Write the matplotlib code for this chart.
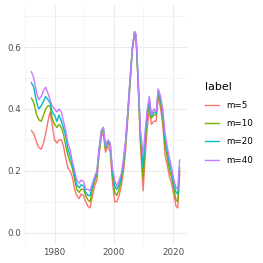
import matplotlib
matplotlib.use("Agg")
import matplotlib.pyplot as plt
from matplotlib.ticker import MultipleLocator

years = [1972.2, 1973, 1974, 1974.7, 1975.5, 1976.3, 1977, 1977.8, 1978.5, 1979.2,
         1980, 1980.8, 1981.5, 1982.3, 1983, 1983.8, 1984.5, 1985.2, 1986, 1986.8,
         1987.5, 1988.3, 1989, 1989.8, 1990.5, 1991.3, 1992, 1992.8, 1993.5, 1994.3,
         1995, 1995.8, 1996.5, 1997.2, 1998, 1998.8, 1999.5, 2000.3, 2001, 2001.8,
         2002.5, 2003.3, 2004, 2004.8, 2005.5, 2006.3, 2007, 2007.5, 2008.2, 2009,
         2009.9, 2010.6, 2011.3, 2012, 2012.7, 2013.5, 2014.3, 2015, 2015.8, 2016.5,
         2017.3, 2018, 2018.8, 2019.5, 2020.3, 2021, 2021.6, 2022.2]

m5 = [0.33, 0.32, 0.29, 0.275, 0.27, 0.29, 0.32, 0.36, 0.39, 0.35,
      0.30, 0.29, 0.30, 0.30, 0.28, 0.24, 0.21, 0.20, 0.18, 0.14,
      0.12, 0.11, 0.125, 0.12, 0.10, 0.085, 0.08, 0.12, 0.15, 0.17,
      0.25, 0.31, 0.32, 0.26, 0.28, 0.26, 0.17, 0.10, 0.10, 0.12,
      0.15, 0.20, 0.27, 0.38, 0.48, 0.59, 0.64, 0.63, 0.48, 0.28,
      0.135, 0.25, 0.34, 0.40, 0.35, 0.36, 0.36, 0.44, 0.40, 0.35,
      0.25, 0.22, 0.18, 0.16, 0.12, 0.085, 0.08, 0.19]

m10 = [0.435, 0.42, 0.38, 0.365, 0.36, 0.38, 0.40, 0.41, 0.41, 0.37,
       0.35, 0.34, 0.35, 0.34, 0.32, 0.28, 0.25, 0.23, 0.21, 0.17,
       0.14, 0.13, 0.14, 0.14, 0.12, 0.105, 0.10, 0.14, 0.165, 0.185,
       0.26, 0.32, 0.33, 0.27, 0.29, 0.28, 0.19, 0.13, 0.12, 0.14,
       0.17, 0.22, 0.29, 0.39, 0.49, 0.60, 0.645, 0.635, 0.49, 0.30,
       0.175, 0.29, 0.37, 0.42, 0.37, 0.38, 0.38, 0.455, 0.42, 0.37,
       0.28, 0.245, 0.20, 0.18, 0.14, 0.105, 0.10, 0.20]

m20 = [0.485, 0.47, 0.42, 0.40, 0.41, 0.425, 0.44, 0.43, 0.42, 0.39,
       0.38, 0.36, 0.38, 0.36, 0.34, 0.31, 0.27, 0.25, 0.22, 0.185,
       0.155, 0.145, 0.155, 0.15, 0.13, 0.12, 0.12, 0.15, 0.175, 0.195,
       0.265, 0.33, 0.34, 0.275, 0.295, 0.285, 0.20, 0.15, 0.14, 0.155,
       0.18, 0.23, 0.295, 0.40, 0.50, 0.60, 0.65, 0.64, 0.50, 0.32,
       0.21, 0.31, 0.39, 0.43, 0.375, 0.39, 0.385, 0.46, 0.43, 0.39,
       0.30, 0.265, 0.22, 0.195, 0.155, 0.13, 0.125, 0.21]

m40 = [0.52, 0.50, 0.45, 0.43, 0.44, 0.46, 0.47, 0.45, 0.43, 0.41,
       0.40, 0.39, 0.40, 0.39, 0.36, 0.33, 0.29, 0.27, 0.23, 0.20,
       0.17, 0.16, 0.17, 0.165, 0.14, 0.14, 0.135, 0.16, 0.18, 0.20,
       0.27, 0.33, 0.34, 0.28, 0.30, 0.29, 0.21, 0.17, 0.15, 0.17,
       0.19, 0.24, 0.30, 0.40, 0.50, 0.60, 0.65, 0.64, 0.50, 0.33,
       0.25, 0.33, 0.40, 0.44, 0.38, 0.40, 0.39, 0.465, 0.44, 0.40,
       0.32, 0.28, 0.24, 0.21, 0.17, 0.145, 0.14, 0.235]

labels = ["m=5", "m=10", "m=20", "m=40"]
colors = ["#F8766D", "#7CAE00", "#00BFC4", "#C77CFF"]

plt.rcParams.update({"font.family": "DejaVu Sans", "font.size": 8.8})

DPI = 72
fig = plt.figure(figsize=(263 / DPI, 263 / DPI), dpi=DPI)
ax = fig.add_axes([24 / 263, 18 / 263, (186.7 - 24) / 263, (258 - 18) / 263])

for series, lab, col in zip([m5, m10, m20, m40], labels, colors):
    ax.plot(years, series, color=col, lw=1.4, label=lab)

ax.set_xlim(1969.7, 2024.6)
ax.set_ylim(-0.04, 0.736)
ax.xaxis.set_major_locator(MultipleLocator(20))
ax.xaxis.set_minor_locator(MultipleLocator(10))
ax.yaxis.set_major_locator(MultipleLocator(0.2))
ax.yaxis.set_minor_locator(MultipleLocator(0.1))
ax.set_yticks([0.0, 0.2, 0.4, 0.6])
ax.set_yticklabels(["0.0", "0.2", "0.4", "0.6"])
ax.grid(which="major", color="#EBEBEB", lw=1.0)
ax.grid(which="minor", color="#EBEBEB", lw=0.5)
ax.set_axisbelow(True)
for s in ax.spines.values():
    s.set_visible(False)
ax.tick_params(which="both", length=0, colors="#4D4D4D", labelsize=8.8, pad=3)

leg = ax.legend(title="label", loc="upper left", bbox_to_anchor=(201 / 263, 0.703),
                bbox_transform=fig.transFigure, frameon=False, fontsize=8.8,
                title_fontsize=11, handlelength=1.63, handletextpad=0.87,
                labelspacing=1.05, borderaxespad=0)
leg._legend_box.align = "left"

fig.savefig("out.png", dpi=DPI)
